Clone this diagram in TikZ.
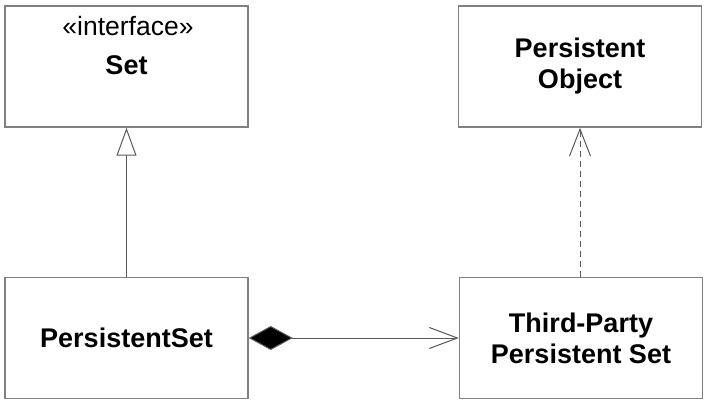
\documentclass[tikz,border=0pt]{standalone}
\usepackage{fontspec}
\setmainfont{Liberation Sans}
\usetikzlibrary{arrows.meta}

\begin{document}
\begin{tikzpicture}[x=1pt, y=-1pt,
    classbox/.style={draw=black!50, line width=1.5pt, minimum width=243pt, minimum height=121pt,
      font=\fontsize{27}{31}\selectfont\bfseries, align=center},
    link/.style={draw=black!65, line width=1pt}]
  \useasboundingbox (0, 0) rectangle (706, 403);
  \node [classbox] (set) at (126.5, 66.5) {};
  \node [classbox] (pobj) at (580, 66.5) {Persistent\\Object};
  \node [classbox] (pset) at (126.5, 338) {PersistentSet};
  \node [classbox] (tpset) at (581, 338) {Third-Party\\Persistent Set};
  \node [anchor=base, font=\fontsize{26.5}{31}\selectfont] (stereo) at (128, 36) {«interface»};
  \node [anchor=base, font=\fontsize{27}{31}\selectfont\bfseries] (setname) at (126.5, 75) {Set};
  % realization, dependency, composition
  \draw [link, -{Triangle[open, length=28pt, width=20pt]}] (pset.north) -- (set.south);
  \draw [link, dash pattern=on 6pt off 4pt, -{Straight Barb[length=27pt, width=21pt]}] (tpset.north -| pobj.south) -- (pobj.south);
  \draw [link, {Diamond[length=44pt, width=24pt, fill=black]}-{Straight Barb[length=28pt, width=21pt]}] (pset.east) -- (tpset.west);
\end{tikzpicture}
\end{document}
